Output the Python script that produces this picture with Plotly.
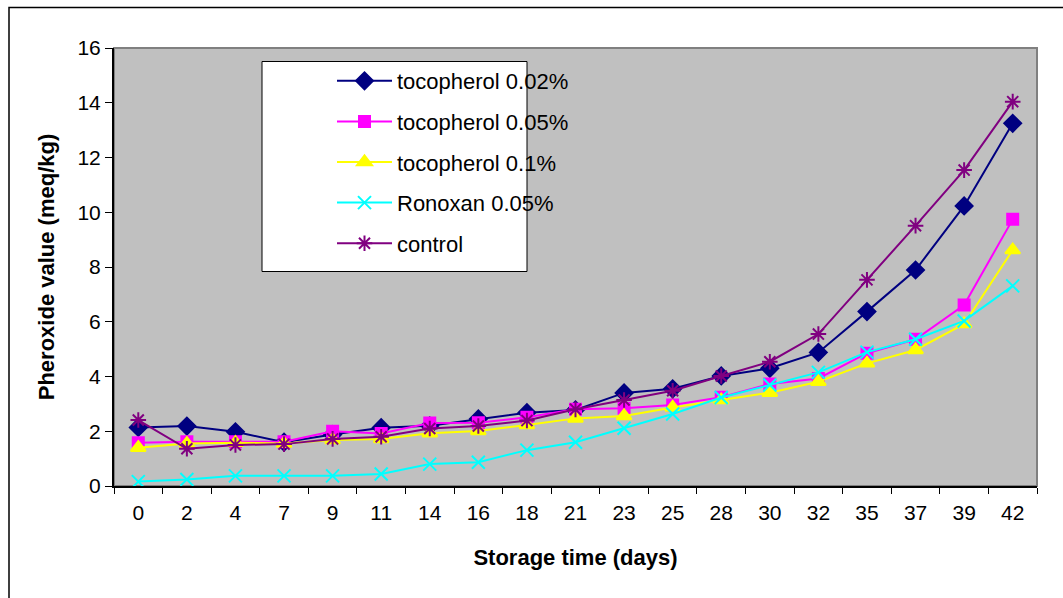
import plotly.graph_objects as go

days = ["0", "2", "4", "7", "9", "11", "14", "16", "18", "21", "23", "25", "28", "30", "32", "35", "37", "39", "42"]

toc_002 = [2.14, 2.19, 1.98, 1.60, 1.88, 2.13, 2.20, 2.45, 2.68, 2.78, 3.40, 3.55, 4.02, 4.30, 4.88, 6.37, 7.89, 10.23, 13.25]
toc_005 = [1.58, 1.62, 1.62, 1.62, 2.00, 1.92, 2.30, 2.31, 2.51, 2.80, 2.84, 2.96, 3.24, 3.73, 3.93, 4.85, 5.36, 6.61, 9.74]
toc_01 = [1.40, 1.55, 1.58, 1.55, 1.68, 1.72, 1.93, 2.01, 2.23, 2.47, 2.56, 2.87, 3.14, 3.41, 3.81, 4.48, 4.97, 5.92, 8.62]
ronoxan = [0.16, 0.24, 0.37, 0.37, 0.37, 0.44, 0.80, 0.87, 1.31, 1.60, 2.11, 2.63, 3.23, 3.69, 4.15, 4.89, 5.36, 6.03, 7.31]
control = [2.41, 1.36, 1.50, 1.53, 1.72, 1.80, 2.10, 2.19, 2.39, 2.80, 3.14, 3.48, 4.02, 4.54, 5.55, 7.53, 9.51, 11.54, 14.04]

series = [
    ("tocopherol 0.02%", toc_002, "#000080", "diamond", 13),
    ("tocopherol 0.05%", toc_005, "#FF00FF", "square", 11),
    ("tocopherol 0.1%", toc_01, "#FFFF00", "triangle-up", 13),
    ("Ronoxan 0.05%", ronoxan, "#00FFFF", "x-thin-open", 13),
    ("control", control, "#800080", "asterisk-open", 13),
]

FONT = "Liberation Sans, Arial, sans-serif"

fig = go.Figure()
for i, (name, vals, col, sym, sz) in enumerate(series):
    fig.add_trace(go.Scatter(
        x=days, y=vals, name=name, mode="lines+markers",
        legendgroup=f"g{i}",
        line=dict(color=col, width=2),
        marker=dict(symbol=sym, size=sz, color=col, line=dict(color=col, width=2)),
    ))

W, H = 1063, 598
L, R, T, B = 114, 26, 48, 112
pw, ph = W - L - R, H - T - B


def px_x(p):
    return (p - L) / pw


def px_y(p):
    return (H - B - p) / ph


shapes = [
    # outer chart border
    dict(type="rect", xref="paper", yref="paper",
         x0=px_x(9), x1=px_x(1075), y0=px_y(610), y1=px_y(7.5),
         line=dict(color="black", width=1.5), fillcolor="rgba(0,0,0,0)", layer="below"),
    # plot area border (gray)
    dict(type="rect", xref="paper", yref="paper", x0=0, x1=1, y0=0, y1=1,
         line=dict(color="#808080", width=2), fillcolor="rgba(0,0,0,0)", layer="below"),
    # legend box
    dict(type="rect", xref="paper", yref="paper",
         x0=px_x(262), x1=px_x(527), y0=px_y(271.5), y1=px_y(61.5),
         line=dict(color="black", width=1), fillcolor="white", layer="below"),
]

fig.update_layout(
    width=W, height=H,
    margin=dict(l=L, r=R, t=T, b=B, autoexpand=False),
    paper_bgcolor="white",
    plot_bgcolor="#C0C0C0",
    font=dict(family=FONT, color="black", size=21),
    shapes=shapes,
    showlegend=True,
    legend=dict(
        x=px_x(332), y=px_y(60), xanchor="left", yanchor="top",
        bgcolor="rgba(0,0,0,0)", borderwidth=0,
        font=dict(family=FONT, size=22, color="black"),
        tracegroupgap=9, itemwidth=55,
    ),
    xaxis=dict(
        type="category", range=[-0.5, 18.5], tickson="boundaries", ticks="outside", ticklen=6,
        tickcolor="black", showline=True, linecolor="black", linewidth=2,
        showgrid=False, zeroline=False,
        tickfont=dict(family=FONT, size=21), ticklabelstandoff=7,
        title=dict(text="<b>Storage time (days)</b>", font=dict(family=FONT, size=22), standoff=26),
        automargin=False,
    ),
    yaxis=dict(
        range=[0, 16], dtick=2, ticks="outside", ticklen=7, tickcolor="black",
        showline=True, linecolor="black", linewidth=2, showgrid=False, zeroline=False,
        tickfont=dict(family=FONT, size=21),
        title=dict(text="<b>Pheroxide value (meq/kg)</b>", font=dict(family=FONT, size=22), standoff=17),
        automargin=False,
    ),
)

fig.write_html("out.html")
